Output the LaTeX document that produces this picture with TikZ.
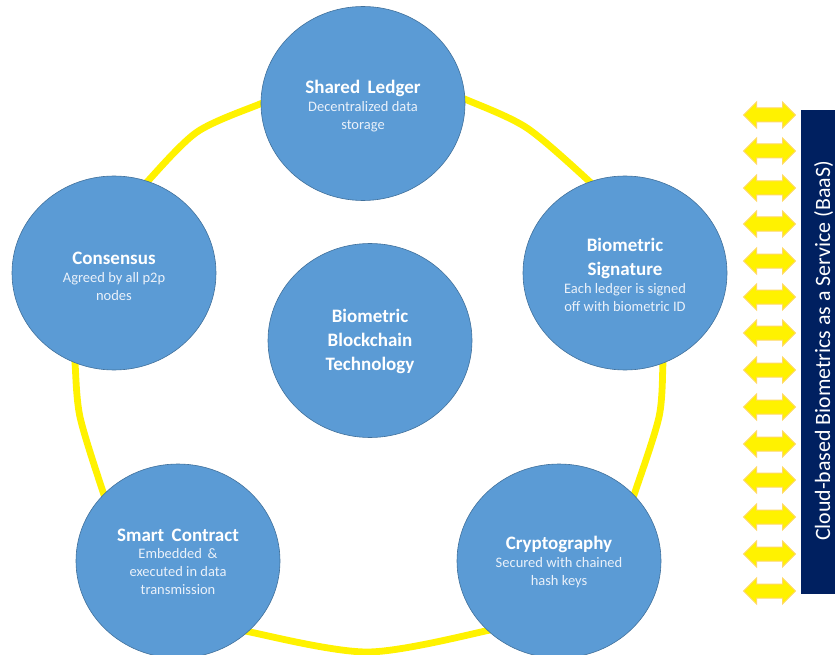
\documentclass[tikz,border=0pt]{standalone}
\usepackage{fontspec}
\setmainfont{Carlito}
\usetikzlibrary{shapes.geometric,shapes.arrows}
\definecolor{discblue}{HTML}{5B9BD5}
\definecolor{discedge}{HTML}{41719C}
\definecolor{barnavy}{HTML}{002060}
\definecolor{arrowedge}{HTML}{FFD966}
\definecolor{subtext}{HTML}{EAF1FA}
\tikzset{
  disc/.style={ellipse,draw=discedge,line width=0.6pt,fill=discblue,minimum width=204pt,minimum height=194pt,inner sep=0pt,text=white,align=center},
  head/.style={font=\fontsize{19}{24}\selectfont\bfseries},
  subt/.style={font=\fontsize{14.5}{18}\selectfont},
  ring/.style={draw=yellow,line width=6.8pt},
  twoway/.style={double arrow,draw=arrowedge,line width=1pt,fill=yellow,minimum height=52pt,double arrow head extend=6pt,inner xsep=0pt,inner ysep=6.5pt,double arrow tip angle=90},
  navybar/.style={fill=barnavy,minimum width=34pt,minimum height=484pt,inner sep=0pt,text=white}
}
\begin{document}
\begin{tikzpicture}[x=1pt,y=-1pt]
\useasboundingbox (0,0) rectangle (835,655);
\fill[white] (0,0) rectangle (835,655);
\draw[ring] plot[smooth] coordinates {(140,192) (147,182) (197,132) (260,104) (275,99)};
\draw[ring] plot[smooth] coordinates {(452,95) (467,100) (527,128) (590,182) (598,192)};
\draw[ring] plot[smooth] coordinates {(664,350) (663,363) (659,417) (635,492) (630,504)};
\draw[ring] plot[smooth] coordinates {(74,350) (75,363) (80,417) (103,492) (108,504)};
\draw[ring] plot[smooth] coordinates {(238,626) (250,632) (368,652) (490,630) (502,624)};
\node[disc] (ledger) at (363,103.5) {};
\node[head,text=white,align=center] (ledgerA) at (363,88) {Shared\, Ledger};
\node[subt,text=subtext,align=center] (ledgerB) at (363,117) {Decentralized data\\storage};
\node[disc] (signature) at (625,273) {};
\node[head,text=white,align=center] (signatureA) at (625,258) {Biometric\\Signature};
\node[subt,text=subtext,align=center] (signatureB) at (625,298) {Each ledger is signed\\off with biometric ID};
\node[disc] (consensus) at (114,273) {};
\node[head,text=white,align=center] (consensusA) at (114,258) {Consensus};
\node[subt,text=subtext,align=center] (consensusB) at (114,287) {Agreed by all p2p\\nodes};
\node[disc] (core) at (370,340.5) {};
\node[head,text=white,align=center] (coreA) at (370,341.5) {Biometric\\Blockchain\\Technology};
\node[disc] (contract) at (178,561) {};
\node[head,text=white,align=center] (contractA) at (178,535) {Smart\, Contract};
\node[subt,text=subtext,align=center] (contractB) at (178,572) {Embedded\, \&\\executed in data\\transmission};
\node[disc] (crypto) at (559,561) {};
\node[head,text=white,align=center] (cryptoA) at (559,544.5) {Cryptography};
\node[subt,text=subtext,align=center] (cryptoB) at (559,573) {Secured with chained\\hash keys};
\foreach \i/\yy in {1/115,2/151,3/188,4/224,5/261,6/297,7/333,8/370,9/407,10/444,11/480,12/517,13/554,14/591}{
  \node[twoway] (arrow\i) at (769.5,\yy) {};
}
\node[navybar] (bar) at (818,352) {};
\node[rotate=90,text=white,font=\fontsize{21.9}{26}\selectfont] (barlabel) at (823.5,351) {Cloud-based Biometrics as a Service (BaaS)};
\end{tikzpicture}
\end{document}
